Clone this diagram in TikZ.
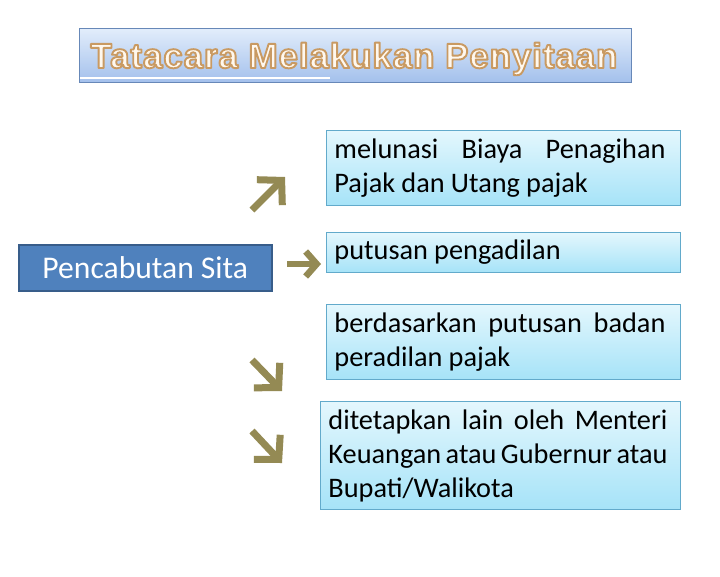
\documentclass[tikz,border=0pt]{standalone}
\usepackage{fontspec}
\setmainfont{Carlito}
\newfontfamily\titlefont[LetterSpace=2.5]{Liberation Sans}
\usetikzlibrary{arrows.meta}
\definecolor{arrowcol}{HTML}{948A54}
\definecolor{sitafill}{HTML}{4F81BD}
\definecolor{sitaborder}{HTML}{385D8A}
\definecolor{boxtop}{HTML}{E4F7FD}
\definecolor{boxbottom}{HTML}{A6E3F8}
\definecolor{boxborder}{HTML}{62AACB}
\definecolor{titletop}{HTML}{E2EDFB}
\definecolor{titlebottom}{HTML}{A3C0EC}
\definecolor{titleborder}{HTML}{6788B8}
\definecolor{titlefill}{HTML}{FFF8EE}
\newcommand{\boxpar}[4]{\hspace*{#1}\parbox{#2}{\spaceskip=0.22em plus 0.8em minus 0.19em\relax #4}\hspace*{#3}}
\newcommand{\outlined}[1]{\special{pdf:literal direct 2 Tr 1.9 w 1 j 0.79 0.604 0.384 RG}#1\special{pdf:literal direct 0 Tr}}
\tikzset{
  infobox/.style={draw=boxborder, line width=0.9pt, top color=boxtop, bottom color=boxbottom,
    anchor=north west, inner xsep=0pt, inner ysep=0pt,
    font=\fontsize{28.3}{34}\selectfont, text=black},
  sitabox/.style={draw=sitaborder, line width=1.6pt, fill=sitafill, text=white,
    anchor=north west, minimum width=253pt, minimum height=46pt, inner sep=0pt,
    font=\fontsize{31.6}{36}\selectfont},
  titlebox/.style={draw=titleborder, line width=0.8pt, top color=titletop, bottom color=titlebottom,
    anchor=north west, minimum width=552pt, minimum height=54pt, inner sep=0pt},
  titletext/.style={font=\titlefont\bfseries\fontsize{35}{40}\selectfont, anchor=base, inner sep=0pt, text=titlefill},
  glyphdiag/.style={draw=arrowcol, line width=7pt, -{Straight Barb[length=17pt, width=36pt, line join=miter]}},
  glyphflat/.style={draw=arrowcol, line width=6.5pt, -{Straight Barb[length=11pt, width=25pt, line join=miter]}},
}
\begin{document}
\begin{tikzpicture}[x=1pt, y=-1pt]
\useasboundingbox (0,0) rectangle (720,576);
\fill[white] (0,0) rectangle (720,576);

% title
\node[titlebox] (title) at (79,28) {};
\draw[white, line width=1.4pt] (80,78) -- (330,78);
\node[titletext] (ttext) at (354,68) {\outlined{Tatacara Melakukan Penyitaan}};

% left box
\node[sitabox] (sita) at (18,244) {Pencabutan Sita};

% right boxes
\node[infobox, minimum height=75pt] (b1) at (326,130)
  {\boxpar{8pt}{331pt}{15pt}{melunasi Biaya Penagihan\linebreak Pajak dan Utang pajak}};
\node[infobox, minimum height=40pt] (b2) at (326,232)
  {\boxpar{8pt}{331pt}{15pt}{putusan pengadilan}};
\node[infobox, minimum height=75pt] (b3) at (326,304)
  {\boxpar{8pt}{331pt}{15pt}{berdasarkan putusan badan\linebreak peradilan pajak}};
\node[infobox, minimum height=108pt] (b4) at (320,401)
  {\boxpar{8pt}{339pt}{13pt}{ditetapkan lain oleh Menteri\linebreak Keuangan atau Gubernur atau\linebreak Bupati/Walikota}};

% glyph arrows
\coordinate (a1s) at (252,210); \coordinate (a1e) at (285,177);
\coordinate (a2s) at (287,264); \coordinate (a2e) at (321,264);
\coordinate (a3s) at (252,360); \coordinate (a3e) at (282,391);
\coordinate (a4s) at (252,431); \coordinate (a4e) at (282,463);
\draw[glyphdiag] (a1s) -- (a1e);
\draw[glyphflat] (a2s) -- (a2e);
\draw[glyphdiag] (a3s) -- (a3e);
\draw[glyphdiag] (a4s) -- (a4e);
\end{tikzpicture}
\end{document}
